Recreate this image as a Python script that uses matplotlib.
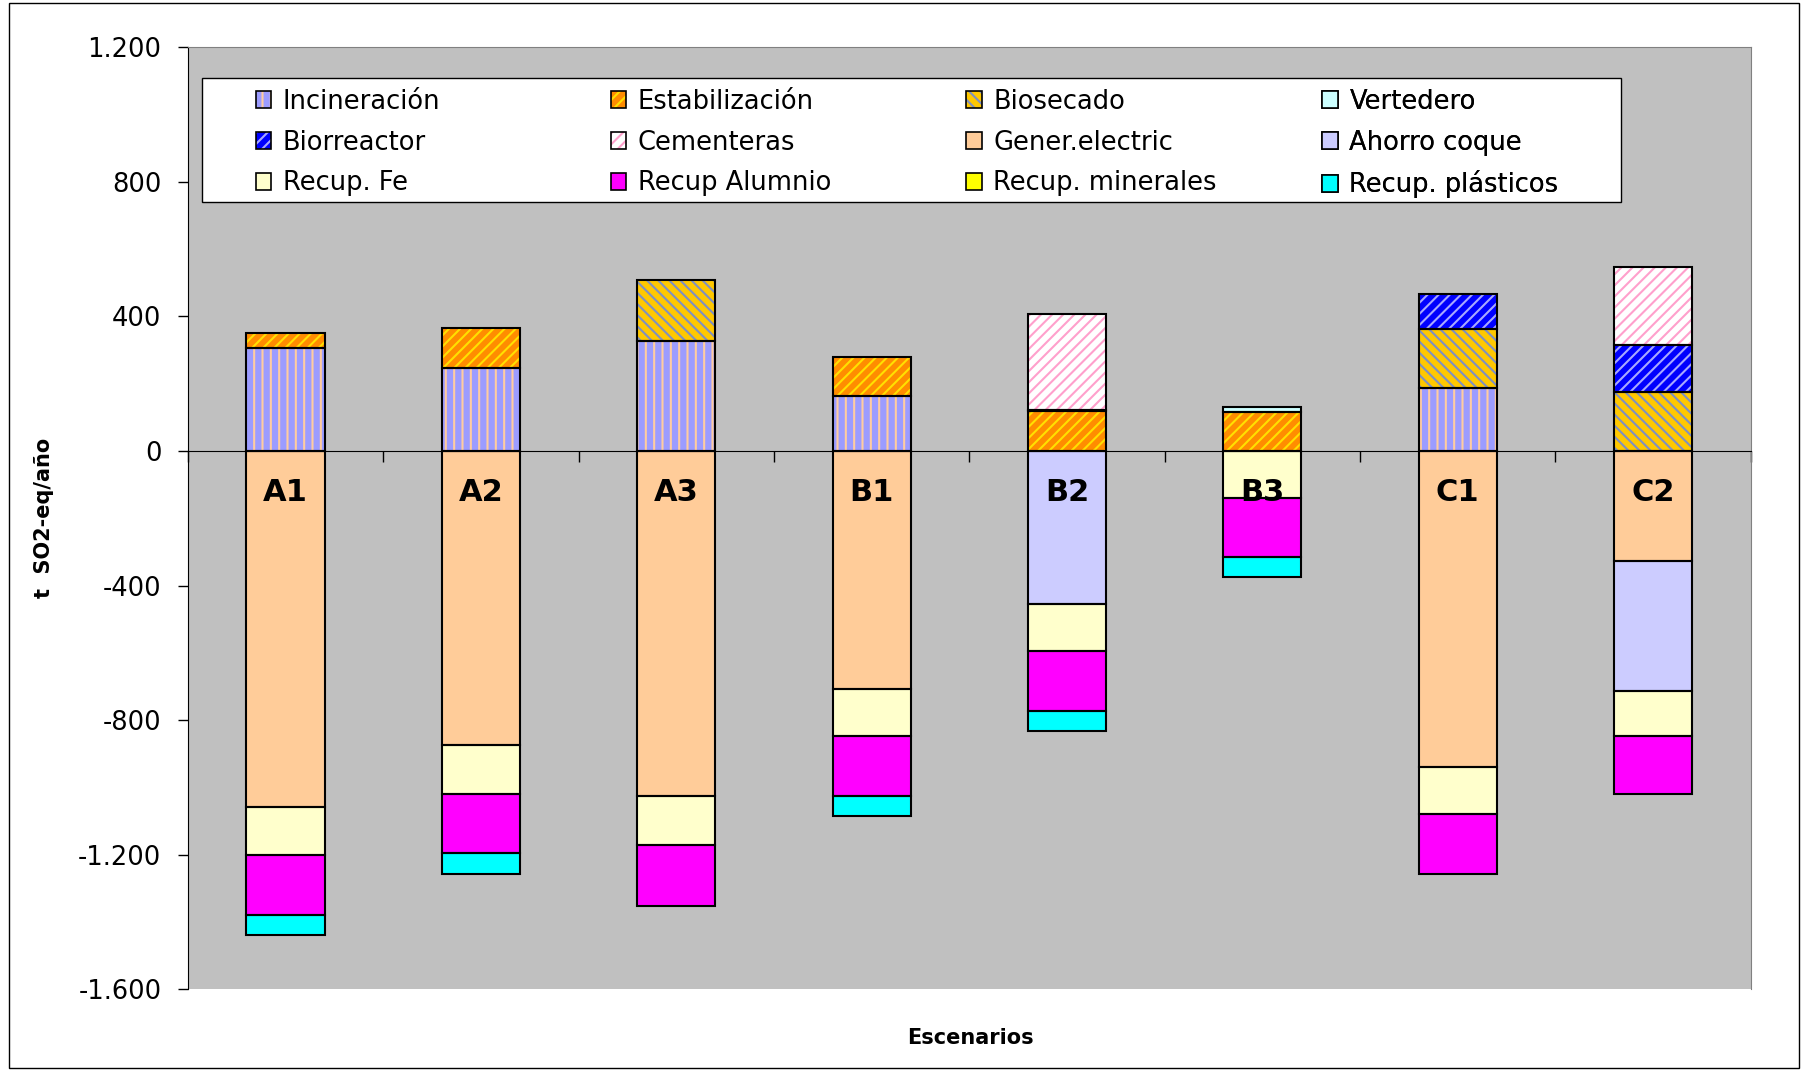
import numpy as np
import matplotlib
matplotlib.use("Agg")
import matplotlib.pyplot as plt
from matplotlib.patches import Patch, Rectangle
from matplotlib.ticker import FuncFormatter

# data (t SO2-eq/año)
escenarios = ['A1', 'A2', 'A3', 'B1', 'B2', 'B3', 'C1', 'C2']

incineracion = [306, 247, 328, 162, 0, 0, 187, 0]
estabilizacion = [44, 120, 0, 118, 118, 117, 0, 0]
biosecado = [0, 0, 180, 0, 0, 0, 176, 175]
vertedero = [0, 0, 0, 0, 4, 13, 0, 0]
biorreactor = [0, 0, 0, 0, 0, 0, 104, 140]
cementeras = [0, 0, 0, 0, 285, 0, 0, 233]
gener_electric = [-1058, -875, -1025, -708, 0, 0, -939, -328]
ahorro_coque = [0, 0, 0, 0, -455, 0, 0, -386]
recup_fe = [-143, -144, -146, -139, -139, -139, -140, -134]
recup_al = [-179, -177, -182, -178, -179, -176, -177, -172]
recup_minerales = [0, 0, 0, 0, 0, 0, 0, 0]
recup_plasticos = [-59, -62, 0, -60, -59, -59, 0, 0]

# name, values, face colour, hatch, hatch colour
series = [
    ('Incineración', incineracion, '#9C9CFF', '||', '#FFCCA0'),
    ('Estabilización', estabilizacion, '#FF8C00', '///', '#FFE000'),
    ('Biosecado', biosecado, '#FFC800', '\\\\\\', '#8090C0'),
    ('Vertedero', vertedero, '#CCFFFF', None, None),
    ('Biorreactor', biorreactor, '#0000FF', '///', '#A8A8FF'),
    ('Cementeras', cementeras, '#FFFFFF', '///', '#FFA0CC'),
    ('Gener.electric', gener_electric, '#FFCC99', None, None),
    ('Ahorro coque', ahorro_coque, '#CCCCFF', None, None),
    ('Recup. Fe', recup_fe, '#FFFFCC', None, None),
    ('Recup Alumnio', recup_al, '#FF00FF', None, None),
    ('Recup. minerales', recup_minerales, '#FFFF00', None, None),
    ('Recup. plásticos', recup_plasticos, '#00FFFF', None, None),
]

plt.rcParams['font.family'] = ['DejaVu Sans']
plt.rcParams['hatch.linewidth'] = 1.5

fig = plt.figure(figsize=(18.06, 10.70), dpi=100)
ax = fig.add_axes([0.104, 0.0753, 0.8654, 0.8806])
ax.set_facecolor('#C0C0C0')

x = np.arange(len(escenarios))
width = 0.40
pos_base = np.zeros(len(x))
neg_base = np.zeros(len(x))
handles = {}

for name, vals, fc, hatch, hc in series:
    v = np.array(vals, dtype=float)
    base = np.where(v >= 0, pos_base, neg_base)
    m = v != 0
    if m.any():
        # hatched fill first, black outline on top
        ax.bar(x[m], v[m], width, bottom=base[m], color=fc,
               edgecolor=hc if hc else fc, hatch=hatch, linewidth=0, zorder=2)
        ax.bar(x[m], v[m], width, bottom=base[m], facecolor='none',
               edgecolor='black', linewidth=1.5, zorder=3)
    pos_base += np.where(v > 0, v, 0)
    neg_base += np.where(v < 0, v, 0)
    h1 = Patch(facecolor=fc, edgecolor=hc if hc else fc, hatch=hatch, linewidth=0)
    h2 = Patch(facecolor='none', edgecolor='black', linewidth=1.2)
    handles[name] = (h1, h2)

for i, cat in enumerate(escenarios):
    ax.text(i, -122, cat, ha='center', va='center', fontsize=22,
            fontweight='bold', zorder=5)

ax.set_xlim(-0.5, len(x) - 0.5)
ax.set_ylim(-1600, 1200)
ax.set_yticks(np.arange(-1600, 1201, 400))
ax.yaxis.set_major_formatter(FuncFormatter(lambda v, p: f"{v:,.0f}".replace(',', '.')))
ax.tick_params(axis='y', direction='out', length=7, width=1, pad=12, labelsize=18.5)

ax.set_xticks([])
ax.set_xticks(np.arange(-0.5, len(x)), minor=True)
ax.tick_params(axis='x', which='minor', direction='out', length=8, width=1)
ax.spines['bottom'].set_position(('data', 0))
ax.spines['bottom'].set_zorder(4)
for s in ('top', 'right'):
    ax.spines[s].set_color('#808080')
ax.spines['left'].set_color('black')

ax.set_ylabel('t  SO2-eq/año', fontsize=15, fontweight='bold')
ax.yaxis.set_label_coords(-0.0855, 0.5)
ax.set_xlabel('Escenarios', fontsize=15, fontweight='bold')
ax.xaxis.set_label_coords(0.501, -0.041)

# legend frame + four legend columns
ax.add_patch(Rectangle((0.0089, 0.836), 0.908, 0.131, transform=ax.transAxes,
                       facecolor='white', edgecolor='black', linewidth=1, zorder=6))
rows = [['Incineración', 'Estabilización', 'Biosecado', 'Vertedero'],
        ['Biorreactor', 'Cementeras', 'Gener.electric', 'Ahorro coque'],
        ['Recup. Fe', 'Recup Alumnio', 'Recup. minerales', 'Recup. plásticos']]
col_x = [0.0435, 0.2705, 0.4982, 0.7259]
for c, cx in enumerate(col_x):
    names = [r[c] for r in rows]
    leg = ax.legend([handles[n] for n in names], names, loc='upper left',
                    bbox_to_anchor=(cx, 0.956), frameon=False, fontsize=18.5,
                    borderpad=0, borderaxespad=0, handlelength=0.6,
                    handleheight=0.6, handletextpad=0.45, labelspacing=0.58)
    leg.set_zorder(7)
    ax.add_artist(leg)

fig.add_artist(Rectangle((0.005, 0.002), 0.991, 0.995, transform=fig.transFigure,
                         fill=False, edgecolor='black', linewidth=1))

fig.savefig('out.png', dpi=100)
